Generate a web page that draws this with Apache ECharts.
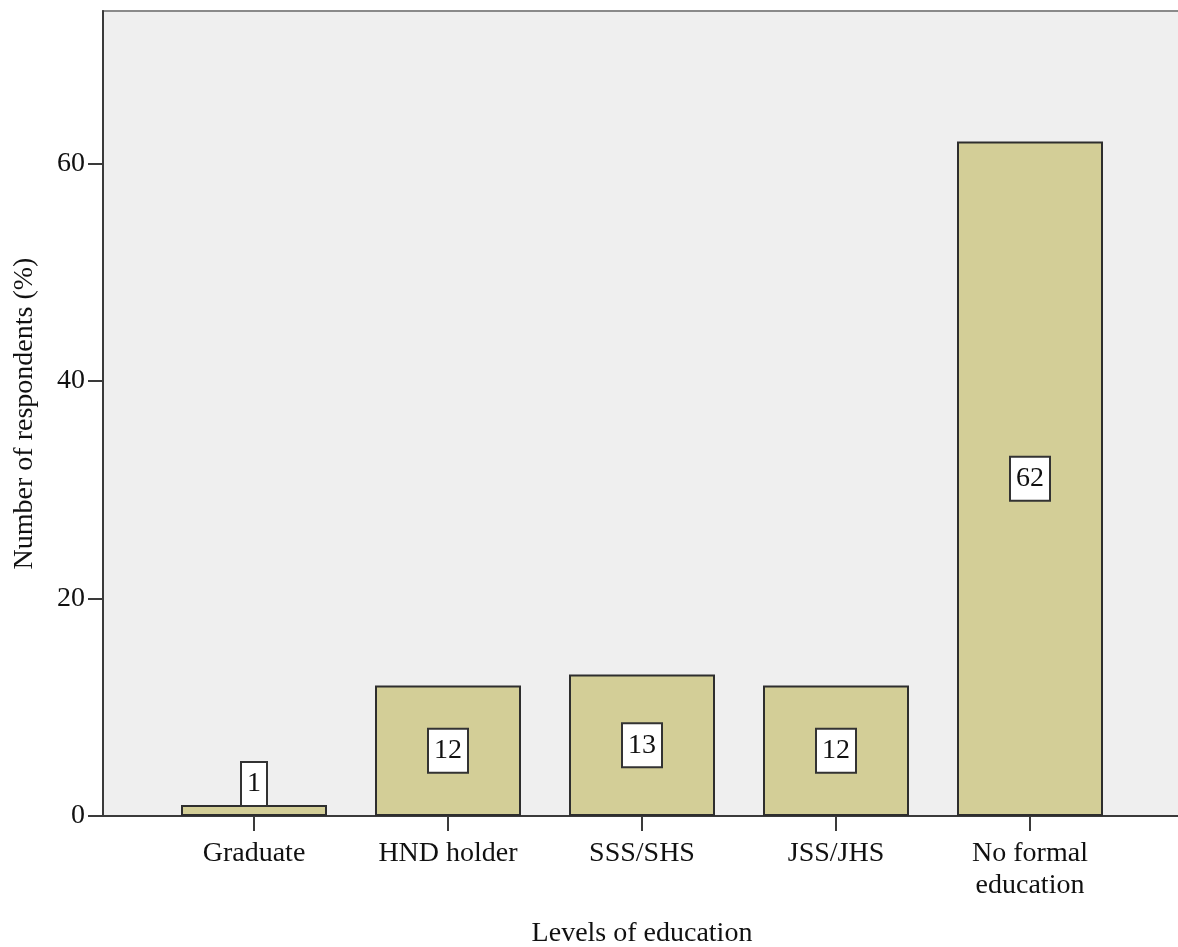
<!DOCTYPE html>
<html>
<head>
<meta charset="utf-8">
<script src="https://cdn.jsdelivr.net/npm/echarts@6/dist/echarts.min.js"></script>
<style>html,body{margin:0;padding:0;background:#fff}#c{width:1178px;height:947px}</style>
</head>
<body>
<div id="c"></div>
<script>
const categories = ['Graduate', 'HND holder', 'SSS/SHS', 'JSS/JHS', 'No formal\neducation'];
const values = [1, 12, 13, 12, 62];
const yTicks = [0, 20, 40, 60];
const xTitle = 'Levels of education';
const yTitle = 'Number of respondents (%)';

const FONT = '"Liberation Serif", "Times New Roman", serif';
const chart = echarts.init(document.getElementById('c'), null, {renderer: 'canvas'});

const barData = values.map(v => {
  if (v < 4) {
    return {value: v, label: {position: 'top', distance: 0}};
  }
  return {value: v};
});

chart.setOption({
  animation: false,
  backgroundColor: '#ffffff',
  grid: [
    {left: 103, top: 11, right: -6, bottom: 131, outerBoundsMode: 'none', containLabel: false,
     show: true, backgroundColor: '#efefef', borderColor: '#8a8a8a', borderWidth: 2},
    {left: 157, top: 11, width: 970, bottom: 131, outerBoundsMode: 'none', containLabel: false}
  ],
  xAxis: [
    {gridIndex: 0, type: 'value', min: 0, max: 1, axisLine: {show: true, onZero: false, lineStyle: {color: '#3a3a3a', width: 2}},
     axisTick: {show: false}, axisLabel: {show: false}, splitLine: {show: false}},
    {gridIndex: 1, type: 'category', data: categories,
     axisLine: {show: false},
     axisTick: {show: true, alignWithLabel: true, length: 15, lineStyle: {color: '#3a3a3a', width: 2}},
     axisLabel: {fontFamily: FONT, fontSize: 28, color: '#111', margin: 22, lineHeight: 32, interval: 0},
     name: xTitle, nameLocation: 'middle', nameGap: 104,
     nameTextStyle: {fontFamily: FONT, fontSize: 28, color: '#111'}}
  ],
  yAxis: [
    {gridIndex: 0, type: 'value', min: 0, max: 74, interval: 20,
     axisLine: {show: true, lineStyle: {color: '#3a3a3a', width: 2}},
     axisTick: {show: true, length: 15, customValues: yTicks, lineStyle: {color: '#3a3a3a', width: 2}},
     axisLabel: {customValues: yTicks, fontFamily: FONT, fontSize: 28, color: '#111', margin: 18},
     splitLine: {show: false},
     name: yTitle, nameLocation: 'middle', nameGap: 64, nameRotate: 90,
     nameTextStyle: {fontFamily: FONT, fontSize: 28, color: '#111'}},
    {gridIndex: 1, type: 'value', min: 0, max: 74, interval: 20, show: false}
  ],
  series: [{
    type: 'bar',
    xAxisIndex: 1,
    yAxisIndex: 1,
    barWidth: 146,
    data: barData,
    itemStyle: {color: '#d3ce97', borderColor: '#2e2e2e', borderWidth: 2},
    label: {
      show: true, position: 'inside', formatter: '{c}',
      fontFamily: FONT, fontSize: 28, color: '#111',
      backgroundColor: '#ffffff', borderColor: '#333', borderWidth: 2,
      padding: [7, 5, 7, 5]
    }
  }]
});
</script>
</body>
</html>
